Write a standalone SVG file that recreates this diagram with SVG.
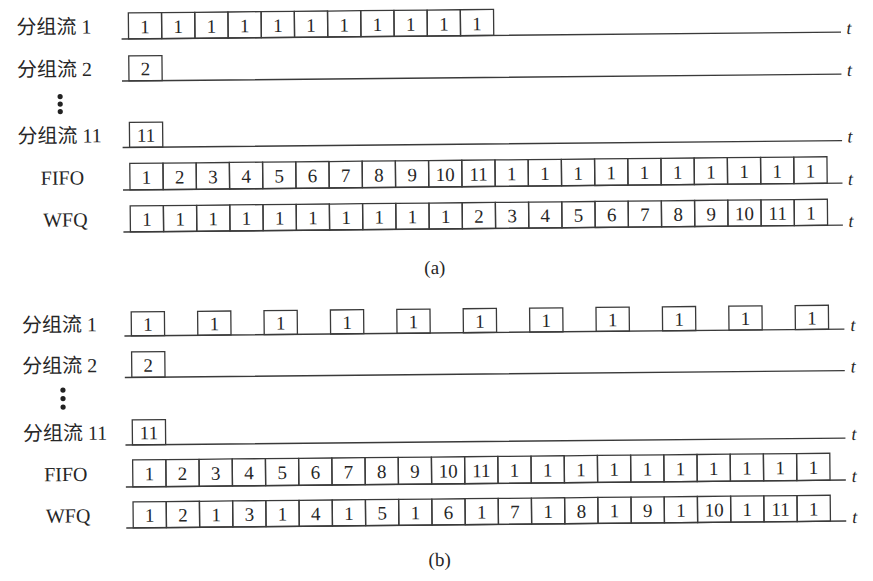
<svg xmlns="http://www.w3.org/2000/svg" width="873" height="581" viewBox="0 0 873 581">
<style>
text{font-family:"Liberation Serif","Noto Sans CJK SC",serif;fill:#262626}
.lb{font-size:20px}
.n{font-size:19px;text-anchor:middle}
.t{font-size:18px;font-style:italic}
.c{font-size:19px;text-anchor:middle}
.b{fill:none;stroke:#3a3a3a;stroke-width:1.3}
.ln{stroke:#3a3a3a;stroke-width:1.4;fill:none}
.d{fill:#222}
</style>
<rect width="873" height="581" fill="#fff"/>
<g transform="rotate(-0.55 436 290)">
<g id="connectors">
<path class="ln" d="M124 36H843.5M124 78H843.5M124 144.5H843.5M124 187H843.5M124 229H843.5"/>
<path class="ln" d="M124 333H844M124 374.5H844M124 442H844M124 484H844M124 525H844"/>
</g>
<g id="time-labels">
<text class="t" x="849" y="38">t</text>
<text class="t" x="849" y="80">t</text>
<text class="t" x="849" y="146.5">t</text>
<text class="t" x="849" y="189">t</text>
<text class="t" x="849" y="231">t</text>
<text class="t" x="850" y="335">t</text>
<text class="t" x="850" y="376.5">t</text>
<text class="t" x="850" y="444">t</text>
<text class="t" x="850" y="486">t</text>
<text class="t" x="850" y="527">t</text>
</g>

<!-- (a) -->
<g id="a-flow1">
<text class="lb" x="19" y="30">分组流 1</text>
<rect class="b" x="131" y="10" width="33.2" height="26"/><rect class="b" x="164.2" y="10" width="33.2" height="26"/><rect class="b" x="197.4" y="10" width="33.2" height="26"/><rect class="b" x="230.6" y="10" width="33.2" height="26"/><rect class="b" x="263.8" y="10" width="33.2" height="26"/><rect class="b" x="297" y="10" width="33.2" height="26"/><rect class="b" x="330.2" y="10" width="33.2" height="26"/><rect class="b" x="363.4" y="10" width="33.2" height="26"/><rect class="b" x="396.6" y="10" width="33.2" height="26"/><rect class="b" x="429.8" y="10" width="33.2" height="26"/><rect class="b" x="463" y="10" width="33.2" height="26"/>
<text class="n" x="147.6" y="30.5">1</text><text class="n" x="180.8" y="30.5">1</text><text class="n" x="214" y="30.5">1</text><text class="n" x="247.2" y="30.5">1</text><text class="n" x="280.4" y="30.5">1</text><text class="n" x="313.6" y="30.5">1</text><text class="n" x="346.8" y="30.5">1</text><text class="n" x="380" y="30.5">1</text><text class="n" x="413.2" y="30.5">1</text><text class="n" x="446.4" y="30.5">1</text><text class="n" x="479.6" y="30.5">1</text>
</g>
<g id="a-flow2">
<text class="lb" x="19" y="72.5">分组流 2</text>
<rect class="b" x="131" y="53" width="33.2" height="25"/>
<text class="n" x="147.6" y="72.5">2</text>
</g>
<g id="a-dots">
<circle class="d" cx="62" cy="93" r="2.6"/><circle class="d" cx="62" cy="100.5" r="2.6"/><circle class="d" cx="62" cy="108" r="2.6"/>
</g>
<g id="a-flow11">
<text class="lb" x="19" y="139">分组流 11</text>
<rect class="b" x="131" y="119.5" width="33.2" height="25"/>
<text class="n" x="147.6" y="139">11</text>
</g>
<g id="a-fifo">
<text class="lb" x="63.5" y="181" text-anchor="middle">FIFO</text>
<rect class="b" x="131" y="160.5" width="33.2" height="26.5"/><rect class="b" x="164.2" y="160.5" width="33.2" height="26.5"/><rect class="b" x="197.4" y="160.5" width="33.2" height="26.5"/><rect class="b" x="230.6" y="160.5" width="33.2" height="26.5"/><rect class="b" x="263.8" y="160.5" width="33.2" height="26.5"/><rect class="b" x="297" y="160.5" width="33.2" height="26.5"/><rect class="b" x="330.2" y="160.5" width="33.2" height="26.5"/><rect class="b" x="363.4" y="160.5" width="33.2" height="26.5"/><rect class="b" x="396.6" y="160.5" width="33.2" height="26.5"/><rect class="b" x="429.8" y="160.5" width="33.2" height="26.5"/><rect class="b" x="463" y="160.5" width="33.2" height="26.5"/><rect class="b" x="496.2" y="160.5" width="33.2" height="26.5"/><rect class="b" x="529.4" y="160.5" width="33.2" height="26.5"/><rect class="b" x="562.6" y="160.5" width="33.2" height="26.5"/><rect class="b" x="595.8" y="160.5" width="33.2" height="26.5"/><rect class="b" x="629" y="160.5" width="33.2" height="26.5"/><rect class="b" x="662.2" y="160.5" width="33.2" height="26.5"/><rect class="b" x="695.4" y="160.5" width="33.2" height="26.5"/><rect class="b" x="728.6" y="160.5" width="33.2" height="26.5"/><rect class="b" x="761.8" y="160.5" width="33.2" height="26.5"/><rect class="b" x="795" y="160.5" width="33.2" height="26.5"/>
<text class="n" x="147.6" y="181">1</text><text class="n" x="180.8" y="181">2</text><text class="n" x="214" y="181">3</text><text class="n" x="247.2" y="181">4</text><text class="n" x="280.4" y="181">5</text><text class="n" x="313.6" y="181">6</text><text class="n" x="346.8" y="181">7</text><text class="n" x="380" y="181">8</text><text class="n" x="413.2" y="181">9</text><text class="n" x="446.4" y="181">10</text><text class="n" x="479.6" y="181">11</text><text class="n" x="512.8" y="181">1</text><text class="n" x="546" y="181">1</text><text class="n" x="579.2" y="181">1</text><text class="n" x="612.4" y="181">1</text><text class="n" x="645.6" y="181">1</text><text class="n" x="678.8" y="181">1</text><text class="n" x="712" y="181">1</text><text class="n" x="745.2" y="181">1</text><text class="n" x="778.4" y="181">1</text><text class="n" x="811.6" y="181">1</text>
</g>
<g id="a-wfq">
<text class="lb" x="66" y="223" text-anchor="middle">WFQ</text>
<rect class="b" x="131" y="203" width="33.2" height="26"/><rect class="b" x="164.2" y="203" width="33.2" height="26"/><rect class="b" x="197.4" y="203" width="33.2" height="26"/><rect class="b" x="230.6" y="203" width="33.2" height="26"/><rect class="b" x="263.8" y="203" width="33.2" height="26"/><rect class="b" x="297" y="203" width="33.2" height="26"/><rect class="b" x="330.2" y="203" width="33.2" height="26"/><rect class="b" x="363.4" y="203" width="33.2" height="26"/><rect class="b" x="396.6" y="203" width="33.2" height="26"/><rect class="b" x="429.8" y="203" width="33.2" height="26"/><rect class="b" x="463" y="203" width="33.2" height="26"/><rect class="b" x="496.2" y="203" width="33.2" height="26"/><rect class="b" x="529.4" y="203" width="33.2" height="26"/><rect class="b" x="562.6" y="203" width="33.2" height="26"/><rect class="b" x="595.8" y="203" width="33.2" height="26"/><rect class="b" x="629" y="203" width="33.2" height="26"/><rect class="b" x="662.2" y="203" width="33.2" height="26"/><rect class="b" x="695.4" y="203" width="33.2" height="26"/><rect class="b" x="728.6" y="203" width="33.2" height="26"/><rect class="b" x="761.8" y="203" width="33.2" height="26"/><rect class="b" x="795" y="203" width="33.2" height="26"/>
<text class="n" x="147.6" y="223">1</text><text class="n" x="180.8" y="223">1</text><text class="n" x="214" y="223">1</text><text class="n" x="247.2" y="223">1</text><text class="n" x="280.4" y="223">1</text><text class="n" x="313.6" y="223">1</text><text class="n" x="346.8" y="223">1</text><text class="n" x="380" y="223">1</text><text class="n" x="413.2" y="223">1</text><text class="n" x="446.4" y="223">1</text><text class="n" x="479.6" y="223">2</text><text class="n" x="512.8" y="223">3</text><text class="n" x="546" y="223">4</text><text class="n" x="579.2" y="223">5</text><text class="n" x="612.4" y="223">6</text><text class="n" x="645.6" y="223">7</text><text class="n" x="678.8" y="223">8</text><text class="n" x="712" y="223">9</text><text class="n" x="745.2" y="223">10</text><text class="n" x="778.4" y="223">11</text><text class="n" x="811.6" y="223">1</text>
</g>
<g id="caption-a"><text class="c" x="435" y="274">(a)</text></g>

<!-- (b) -->
<g id="b-flow1">
<text class="lb" x="21.5" y="328">分组流 1</text>
<rect class="b" x="131" y="309" width="33.2" height="24"/><rect class="b" x="197.4" y="309" width="33.2" height="24"/><rect class="b" x="263.8" y="309" width="33.2" height="24"/><rect class="b" x="330.2" y="309" width="33.2" height="24"/><rect class="b" x="396.6" y="309" width="33.2" height="24"/><rect class="b" x="463" y="309" width="33.2" height="24"/><rect class="b" x="529.4" y="309" width="33.2" height="24"/><rect class="b" x="595.8" y="309" width="33.2" height="24"/><rect class="b" x="662.2" y="309" width="33.2" height="24"/><rect class="b" x="728.6" y="309" width="33.2" height="24"/><rect class="b" x="795" y="309" width="33.2" height="24"/>
<text class="n" x="147.6" y="328">1</text><text class="n" x="214" y="328">1</text><text class="n" x="280.4" y="328">1</text><text class="n" x="346.8" y="328">1</text><text class="n" x="413.2" y="328">1</text><text class="n" x="479.6" y="328">1</text><text class="n" x="546" y="328">1</text><text class="n" x="612.4" y="328">1</text><text class="n" x="678.8" y="328">1</text><text class="n" x="745.2" y="328">1</text><text class="n" x="811.6" y="328">1</text>
</g>
<g id="b-flow2">
<text class="lb" x="21.5" y="369">分组流 2</text>
<rect class="b" x="131" y="349" width="33.2" height="25.5"/>
<text class="n" x="147.6" y="369">2</text>
</g>
<g id="b-dots">
<circle class="d" cx="62" cy="386.5" r="2.6"/><circle class="d" cx="62" cy="395" r="2.6"/><circle class="d" cx="62" cy="403.5" r="2.6"/>
</g>
<g id="b-flow11">
<text class="lb" x="21.5" y="436.5">分组流 11</text>
<rect class="b" x="131" y="417" width="33.2" height="25"/>
<text class="n" x="147.6" y="436.5">11</text>
</g>
<g id="b-fifo">
<text class="lb" x="64" y="477.5" text-anchor="middle">FIFO</text>
<rect class="b" x="131" y="457" width="33.2" height="27"/><rect class="b" x="164.2" y="457" width="33.2" height="27"/><rect class="b" x="197.4" y="457" width="33.2" height="27"/><rect class="b" x="230.6" y="457" width="33.2" height="27"/><rect class="b" x="263.8" y="457" width="33.2" height="27"/><rect class="b" x="297" y="457" width="33.2" height="27"/><rect class="b" x="330.2" y="457" width="33.2" height="27"/><rect class="b" x="363.4" y="457" width="33.2" height="27"/><rect class="b" x="396.6" y="457" width="33.2" height="27"/><rect class="b" x="429.8" y="457" width="33.2" height="27"/><rect class="b" x="463" y="457" width="33.2" height="27"/><rect class="b" x="496.2" y="457" width="33.2" height="27"/><rect class="b" x="529.4" y="457" width="33.2" height="27"/><rect class="b" x="562.6" y="457" width="33.2" height="27"/><rect class="b" x="595.8" y="457" width="33.2" height="27"/><rect class="b" x="629" y="457" width="33.2" height="27"/><rect class="b" x="662.2" y="457" width="33.2" height="27"/><rect class="b" x="695.4" y="457" width="33.2" height="27"/><rect class="b" x="728.6" y="457" width="33.2" height="27"/><rect class="b" x="761.8" y="457" width="33.2" height="27"/><rect class="b" x="795" y="457" width="33.2" height="27"/>
<text class="n" x="147.6" y="477.5">1</text><text class="n" x="180.8" y="477.5">2</text><text class="n" x="214" y="477.5">3</text><text class="n" x="247.2" y="477.5">4</text><text class="n" x="280.4" y="477.5">5</text><text class="n" x="313.6" y="477.5">6</text><text class="n" x="346.8" y="477.5">7</text><text class="n" x="380" y="477.5">8</text><text class="n" x="413.2" y="477.5">9</text><text class="n" x="446.4" y="477.5">10</text><text class="n" x="479.6" y="477.5">11</text><text class="n" x="512.8" y="477.5">1</text><text class="n" x="546" y="477.5">1</text><text class="n" x="579.2" y="477.5">1</text><text class="n" x="612.4" y="477.5">1</text><text class="n" x="645.6" y="477.5">1</text><text class="n" x="678.8" y="477.5">1</text><text class="n" x="712" y="477.5">1</text><text class="n" x="745.2" y="477.5">1</text><text class="n" x="778.4" y="477.5">1</text><text class="n" x="811.6" y="477.5">1</text>
</g>
<g id="b-wfq">
<text class="lb" x="66" y="519" text-anchor="middle">WFQ</text>
<rect class="b" x="131" y="499" width="33.2" height="26"/><rect class="b" x="164.2" y="499" width="33.2" height="26"/><rect class="b" x="197.4" y="499" width="33.2" height="26"/><rect class="b" x="230.6" y="499" width="33.2" height="26"/><rect class="b" x="263.8" y="499" width="33.2" height="26"/><rect class="b" x="297" y="499" width="33.2" height="26"/><rect class="b" x="330.2" y="499" width="33.2" height="26"/><rect class="b" x="363.4" y="499" width="33.2" height="26"/><rect class="b" x="396.6" y="499" width="33.2" height="26"/><rect class="b" x="429.8" y="499" width="33.2" height="26"/><rect class="b" x="463" y="499" width="33.2" height="26"/><rect class="b" x="496.2" y="499" width="33.2" height="26"/><rect class="b" x="529.4" y="499" width="33.2" height="26"/><rect class="b" x="562.6" y="499" width="33.2" height="26"/><rect class="b" x="595.8" y="499" width="33.2" height="26"/><rect class="b" x="629" y="499" width="33.2" height="26"/><rect class="b" x="662.2" y="499" width="33.2" height="26"/><rect class="b" x="695.4" y="499" width="33.2" height="26"/><rect class="b" x="728.6" y="499" width="33.2" height="26"/><rect class="b" x="761.8" y="499" width="33.2" height="26"/><rect class="b" x="795" y="499" width="33.2" height="26"/>
<text class="n" x="147.6" y="519">1</text><text class="n" x="180.8" y="519">2</text><text class="n" x="214" y="519">1</text><text class="n" x="247.2" y="519">3</text><text class="n" x="280.4" y="519">1</text><text class="n" x="313.6" y="519">4</text><text class="n" x="346.8" y="519">1</text><text class="n" x="380" y="519">5</text><text class="n" x="413.2" y="519">1</text><text class="n" x="446.4" y="519">6</text><text class="n" x="479.6" y="519">1</text><text class="n" x="512.8" y="519">7</text><text class="n" x="546" y="519">1</text><text class="n" x="579.2" y="519">8</text><text class="n" x="612.4" y="519">1</text><text class="n" x="645.6" y="519">9</text><text class="n" x="678.8" y="519">1</text><text class="n" x="712" y="519">10</text><text class="n" x="745.2" y="519">1</text><text class="n" x="778.4" y="519">11</text><text class="n" x="811.6" y="519">1</text>
</g>
<g id="caption-b"><text class="c" x="437" y="566">(b)</text></g>
</g>
</svg>
